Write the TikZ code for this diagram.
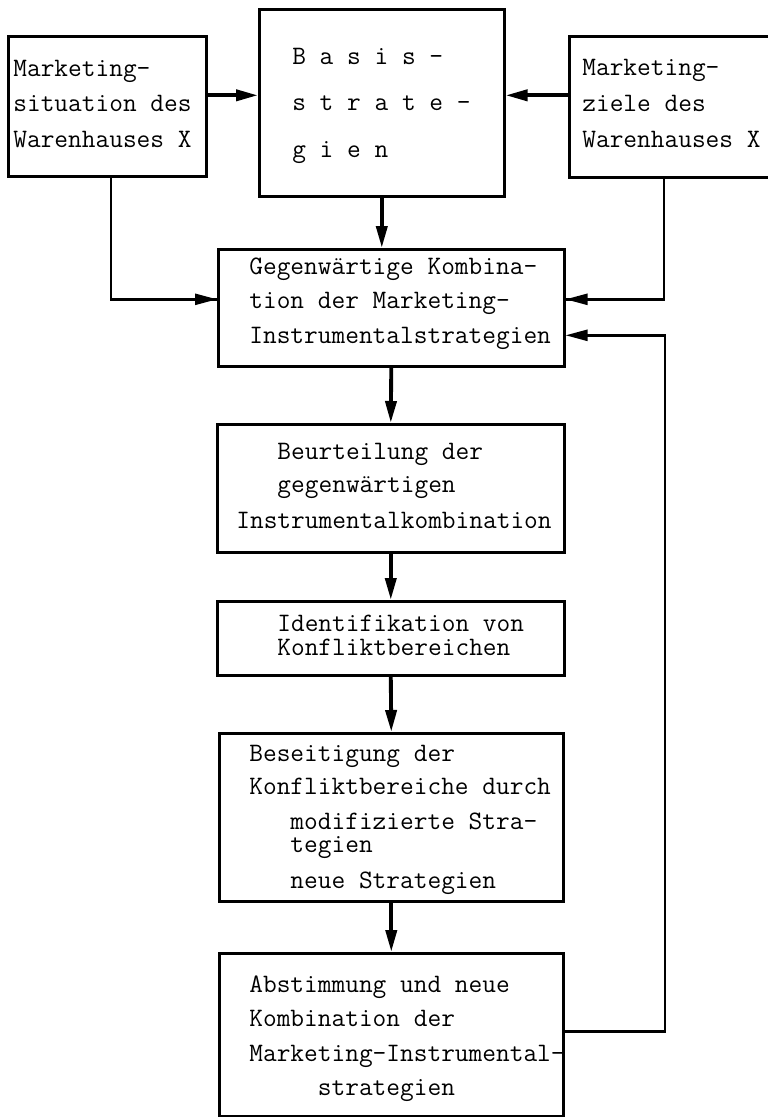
\documentclass[tikz,border=0pt]{standalone}
\usepackage{fontspec}
\usepackage{tikz}
\usetikzlibrary{arrows.meta}

\begin{document}
\begin{tikzpicture}[x=0.02cm, y=-0.02cm]
	\tikzstyle{every node}=[font=\ttfamily\fontsize{15.15pt}{13.1pt}\selectfont];
	\tikzstyle{frame}=[draw, line width=1.5pt, anchor=north west, inner sep=0pt];
	\tikzstyle{boxtext}=[anchor=base west, align=left, inner sep=0pt];
	\tikzstyle{flow}=[line width=2.2pt, -{Triangle[length=0.44cm, width=0.22cm]}];
	\tikzstyle{link}=[line width=1.4pt];
	
	\useasboundingbox (0,0) rectangle (768,1117);
	\clip (0,0) rectangle (768,1117);
	
	%Top row
	\node[frame, minimum width=3.96cm, minimum height=2.8cm] (situation) at (7,35) {};
	\node[boxtext] (situationtext) at (13,147) {Marketing-\\[0.24cm]situation des\\[0.24cm]Warenhauses X};
	\node[frame, minimum width=4.9cm, minimum height=3.74cm] (basis) at (258,8) {};
	\node[boxtext] (basistext) at (292,157) {B a s i s -\\[0.46cm]s t r a t e -\\[0.46cm]g i e n};
	\node[frame, minimum width=4.4cm, minimum height=2.82cm] (ziele) at (568,35) {};
	\node[boxtext] (zieletext) at (582,147) {Marketing-\\[0.25cm]ziele des\\[0.25cm]Warenhauses X};
	
	%Main column
	\node[frame, minimum width=6.92cm, minimum height=2.34cm] (gegenwart) at (217,248) {};
	\node[boxtext] (gegenwarttext) at (249,343) {Gegenwärtige Kombina-\\[0.22cm]tion der Marketing-\\[0.22cm]Instrumentalstrategien};
	\node[frame, minimum width=6.94cm, minimum height=2.56cm] (beurteilung) at (216,423) {};
	\node[boxtext] (beurteilungtext) at (236,528) {~~~Beurteilung der\\[0.2cm]~~~gegenwärtigen\\[0.24cm]Instrumentalkombination};
	\node[frame, minimum width=6.94cm, minimum height=1.48cm] (konflikt) at (216,600) {};
	\node[boxtext] (konflikttext) at (277,655) {Identifikation von\\Konfliktbereichen};
	\node[frame, minimum width=6.88cm, minimum height=3.36cm] (beseitigung) at (218,732) {};
	\node[boxtext] (beseitigungtext) at (249,888) {Beseitigung der\\[0.2cm]Konfliktbereiche durch\\[0.24cm]~~~modifizierte Stra-\\~~~tegien\\[0.24cm]~~~neue Strategien};
	\node[frame, minimum width=6.88cm, minimum height=3.26cm] (abstimmung) at (218,952) {};
	\node[boxtext] (abstimmungtext) at (249,1095) {Abstimmung und neue\\[0.22cm]Kombination der\\[0.22cm]Marketing-Instrumental-\\[0.22cm]~~~~~strategien};
	
	%Arrows into the basic strategies
	\draw[flow] ([yshift=0.22cm]situation.east) -- ([yshift=0.22cm]situation.east -| basis.west);
	\draw[flow] ([yshift=0.23cm]ziele.west) -- ([yshift=0.23cm]ziele.west -| basis.east);
	\draw[flow] (basis.south) -- (basis.south |- gegenwart.north);
	
	%Side inputs
	\coordinate (leftin) at ([yshift=0.17cm]gegenwart.west);
	\coordinate (rightin) at ([yshift=0.17cm]gegenwart.east);
	\draw[link] (situation.south -| 111,0) |- (leftin);
	\draw[flow, line width=1.4pt] (leftin -| 190,0) -- (leftin);
	\draw[link] (ziele.south -| 664,0) |- (rightin);
	\draw[flow, line width=1.4pt] (rightin -| 600,0) -- (rightin);
	
	%Main flow
	\draw[flow] (gegenwart.south) -- (beurteilung.north);
	\draw[flow] (beurteilung.south) -- (konflikt.north);
	\draw[flow] (konflikt.south) -- (beseitigung.north);
	\draw[flow] (beseitigung.south) -- (abstimmung.north);
	
	%Feedback
	\coordinate (back) at (665,0);
	\coordinate (backin) at ([yshift=-0.55cm]gegenwart.east);
	\draw[link] ([yshift=0.07cm]abstimmung.east) -| (back |- backin) -- (backin -| 600,0);
	\draw[flow, line width=1.4pt] (backin -| 600,0) -- (backin);
\end{tikzpicture}
\end{document}
